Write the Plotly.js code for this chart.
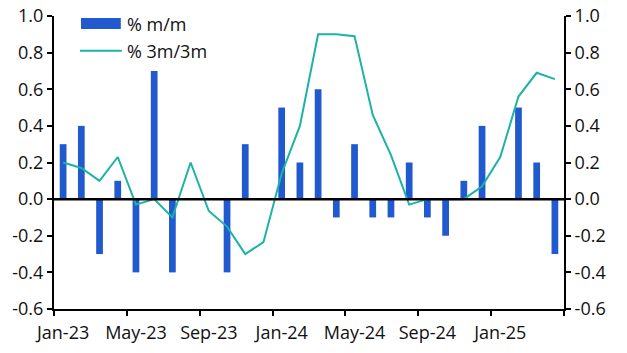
<!DOCTYPE html>
<html>
<head>
<meta charset="utf-8">
<script src="https://cdn.plot.ly/plotly-3.0.1.min.js"></script>
<style>html,body{margin:0;padding:0;background:#fff;}#chart{width:627px;height:353px;}</style>
</head>
<body>
<div id="chart"></div>
<script>
const months = ["Jan-23","Feb-23","Mar-23","Apr-23","May-23","Jun-23","Jul-23","Aug-23","Sep-23","Oct-23","Nov-23","Dec-23",
                "Jan-24","Feb-24","Mar-24","Apr-24","May-24","Jun-24","Jul-24","Aug-24","Sep-24","Oct-24","Nov-24","Dec-24",
                "Jan-25","Feb-25","Mar-25","Apr-25"];
const mom = [0.3,0.4,-0.3,0.1,-0.4,0.7,-0.4,0.0,0.0,-0.4,0.3,0.0,
             0.5,0.2,0.6,-0.1,0.3,-0.1,-0.1,0.2,-0.1,-0.2,0.1,0.4,
             0.0,0.5,0.2,-0.3];
const m3m3 = [0.20,0.17,0.10,0.23,-0.03,0.00,-0.10,0.20,-0.065,-0.15,-0.30,-0.235,
              0.14,0.40,0.90,0.90,0.89,0.46,0.24,-0.03,0.00,0.00,0.00,0.07,
              0.23,0.56,0.69,0.655];
const yTickVals = [-0.6,-0.4,-0.2,0.0,0.2,0.4,0.6,0.8,1.0];
const yTickText = ["-0.6","-0.4","-0.2","0.0","0.2","0.4","0.6","0.8","1.0"];
const legendNames = ["% m/m","% 3m/3m"];

const barColor = "#2159CF";
const lineColor = "#1BB3A5";
const fontFam = "'Open Sans', sans-serif";
const fontSize = 18;
const textColor = "#111";

const traces = [
  {type:"bar", x:months, y:mom, name:legendNames[0], marker:{color:barColor}, showlegend:false, hoverinfo:"skip"},
  {type:"scatter", mode:"lines", x:months, y:m3m3, name:legendNames[1], yaxis:"y2",
   line:{color:lineColor, width:2}, showlegend:false, hoverinfo:"skip"}
];

const yCommon = {
  range:[-0.6,1.0], tickvals:yTickVals, ticktext:yTickText, showgrid:false, zeroline:false,
  showline:true, linecolor:"#000", linewidth:2, ticks:"outside", ticklen:5, tickwidth:2, tickcolor:"#000",
  tickfont:{family:fontFam, size:fontSize, color:textColor}, fixedrange:true
};

const layout = {
  width:627, height:353,
  margin:{l:54, r:63, t:16, b:44, pad:0},
  paper_bgcolor:"#fff", plot_bgcolor:"#fff",
  bargap:0.63,
  xaxis:{
    type:"category", range:[-0.5,27.5], dtick:4, tickson:"boundaries",
    showgrid:false, zeroline:false, showline:true, linecolor:"#000", linewidth:2,
    ticks:"outside", ticklen:5, tickwidth:2, tickcolor:"#000", ticklabelstandoff:6,
    tickfont:{family:fontFam, size:fontSize, color:textColor}, tickangle:0, fixedrange:true
  },
  yaxis:Object.assign({}, yCommon, {side:"left"}),
  yaxis2:Object.assign({}, yCommon, {side:"right", overlaying:"y"}),
  shapes:[
    {type:"line", xref:"paper", yref:"y", x0:0, x1:1, y0:0, y1:0, line:{color:"#000", width:2.5}, layer:"above"},
    {type:"rect", xref:"paper", yref:"paper", x0:0.053, x1:0.131, y0:0.993, y1:0.956, fillcolor:barColor, line:{width:0}},
    {type:"line", xref:"paper", yref:"paper", x0:0.051, x1:0.133, y0:0.881, y1:0.881, line:{color:lineColor, width:2}}
  ],
  annotations:[
    {xref:"paper", yref:"paper", x:0.139, y:0.973, xanchor:"left", yanchor:"middle", text:legendNames[0], showarrow:false,
     font:{family:fontFam, size:fontSize, color:textColor}},
    {xref:"paper", yref:"paper", x:0.139, y:0.881, xanchor:"left", yanchor:"middle", text:legendNames[1], showarrow:false,
     font:{family:fontFam, size:fontSize, color:textColor}}
  ]
};

Plotly.newPlot("chart", traces, layout, {staticPlot:true, displayModeBar:false});
</script>
</body>
</html>
